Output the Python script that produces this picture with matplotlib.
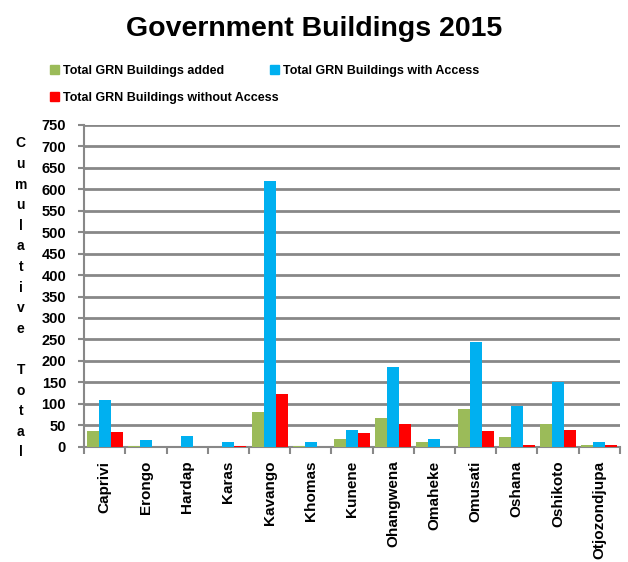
import numpy as np
import matplotlib
matplotlib.use('Agg')
import matplotlib.pyplot as plt
from matplotlib.patches import Patch

regions = ['Caprivi', 'Erongo', 'Hardap', 'Karas', 'Kavango', 'Khomas', 'Kunene',
           'Ohangwena', 'Omaheke', 'Omusati', 'Oshana', 'Oshikoto', 'Otjozondjupa']
added = [36, 3, 0, 0, 82, 3, 19, 68, 10, 89, 22, 54, 5]
with_access = [110, 15, 24, 10, 620, 12, 40, 185, 19, 245, 94, 152, 12]
without_access = [34, 0, 0, 3, 123, 0, 31, 54, 0, 36, 5, 40, 5]

series_names = ['Total GRN Buildings added', 'Total GRN Buildings with Access',
                'Total GRN Buildings without Access']
colors = ['#9BBB59', '#00B0F0', '#FF0000']

plt.rcParams['font.family'] = ['Liberation Sans', 'DejaVu Sans']
plt.rcParams['font.weight'] = 'bold'

fig = plt.figure(figsize=(6.28, 5.62), dpi=100)
ax = fig.add_axes([0.134, 0.205, 0.853, 0.573])

x = np.arange(len(regions))
w = 0.29
for i, (vals, c) in enumerate(zip([added, with_access, without_access], colors)):
    ax.bar(x + (i - 1) * w, vals, w, color=c, zorder=3)

ax.set_xlim(-0.5, len(regions) - 0.5)
ax.set_ylim(0, 750)
ax.set_yticks(range(0, 751, 50))
ax.yaxis.grid(True, color='#888888', linewidth=2, zorder=0)
ax.set_xticks(x)
ax.set_xticklabels(regions, rotation=90, fontsize=11, fontweight='bold')
ax.set_xticks(np.arange(-0.5, len(regions), 1), minor=True)
ax.tick_params(axis='x', which='major', length=0, pad=10)
ax.tick_params(axis='x', which='minor', length=5, width=1.5, color='#888888')
ax.tick_params(axis='y', length=4, width=1.5, color='#888888', labelsize=10.5, pad=9)
for lab in ax.get_yticklabels():
    lab.set_fontweight('bold')
for s in ['top', 'right']:
    ax.spines[s].set_visible(False)
for s in ['left', 'bottom']:
    ax.spines[s].set_color('#888888')
    ax.spines[s].set_linewidth(1.5)

fig.text(0.5, 0.949, 'Government Buildings 2015', ha='center', va='center',
         fontsize=20.5, fontweight='bold')

ylab = 'Cumulative Total'
ys = np.linspace(0.745, 0.195, len(ylab))
for ch, yy in zip(ylab, ys):
    fig.text(0.033, yy, ch, ha='center', va='center', fontsize=10, fontweight='bold')

handles = [Patch(color=c) for c in colors]
leg_kw = dict(loc='upper left', frameon=False, fontsize=9, handlelength=0.7,
              handleheight=0.7, handletextpad=0.3, labelspacing=1.2,
              borderaxespad=0, borderpad=0)
leg1 = fig.legend([handles[0], handles[2]], [series_names[0], series_names[2]],
                  bbox_to_anchor=(0.08, 0.884), **leg_kw)
leg2 = fig.legend([handles[1]], [series_names[1]],
                  bbox_to_anchor=(0.43, 0.884), **leg_kw)

fig.savefig('out.png', dpi=100)
